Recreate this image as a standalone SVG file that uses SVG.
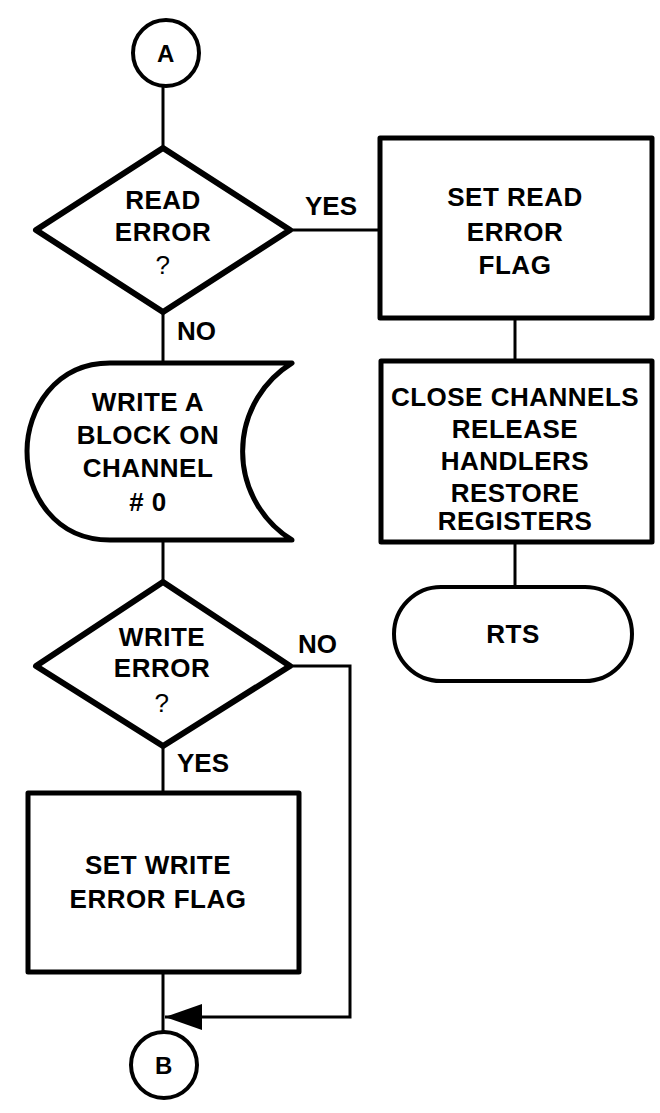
<svg xmlns="http://www.w3.org/2000/svg" width="660" height="1113" viewBox="0 0 660 1113">
<defs>
<style>
.t{font-family:"Liberation Sans",Arial,sans-serif;font-weight:bold;font-size:26px;fill:#000;text-anchor:middle;letter-spacing:0.5px}
.l{font-family:"Liberation Sans",Arial,sans-serif;font-weight:bold;font-size:26px;fill:#000}
.s{fill:#fff;stroke:#000;stroke-width:5;stroke-linejoin:round}
.c{fill:none;stroke:#000;stroke-width:3}
</style>
<marker id="ah" markerWidth="38" markerHeight="26" refX="37" refY="13" orient="auto" markerUnits="userSpaceOnUse">
<path d="M0,0 L37,13 L0,26 Z" fill="#000"/>
</marker>
</defs>
<rect width="660" height="1113" fill="#fff"/>
<g id="connectors">
<line class="c" x1="163" y1="86" x2="163" y2="148"/>
<line class="c" x1="290" y1="230" x2="380" y2="230"/>
<line class="c" x1="163" y1="312" x2="163" y2="363"/>
<line class="c" x1="515" y1="318" x2="515" y2="361"/>
<line class="c" x1="515" y1="542" x2="515" y2="587"/>
<line class="c" x1="163" y1="540" x2="163" y2="582"/>
<line class="c" x1="163" y1="746" x2="163" y2="793"/>
<line class="c" x1="163" y1="972" x2="163" y2="1032"/>
<polyline class="c" points="290,666 350,666 350,1017 165,1017" marker-end="url(#ah)"/>
<text class="l" x="305" y="215">YES</text>
<text class="l" x="177" y="340">NO</text>
<text class="l" x="298" y="653">NO</text>
<text class="l" x="177" y="772">YES</text>
</g>
<g id="nodeA">
<circle cx="166" cy="53" r="33" fill="#fff" stroke="#000" stroke-width="4"/>
<text class="t" x="166" y="62" style="font-size:24px">A</text>
</g>
<g id="readError">
<polygon class="s" points="163,148 290,230 163,312 36,230" style="stroke-width:6"/>
<text class="t" x="163" y="209">READ</text>
<text class="t" x="163" y="241">ERROR</text>
<text class="t" x="163" y="274" style="font-weight:normal">?</text>
</g>
<g id="setReadError">
<rect class="s" x="380" y="138" width="272" height="180"/>
<text class="t" x="515" y="206">SET READ</text>
<text class="t" x="515" y="241">ERROR</text>
<text class="t" x="515" y="274">FLAG</text>
</g>
<g id="closeChannels">
<rect class="s" x="381" y="361" width="271" height="181"/>
<text class="t" x="515" y="406">CLOSE CHANNELS</text>
<text class="t" x="515" y="438">RELEASE</text>
<text class="t" x="515" y="470">HANDLERS</text>
<text class="t" x="515" y="502">RESTORE</text>
<text class="t" x="515" y="530">REGISTERS</text>
</g>
<g id="rts">
<rect class="s" x="394" y="587" width="238" height="94" rx="47" ry="47" style="stroke-width:4"/>
<text class="t" x="513" y="643">RTS</text>
</g>
<g id="writeBlock">
<path class="s" d="M292,363 L110,363 C55,363 27,410 27,451 C27,495 55,540 110,540 L292,540 A104,104 0 0 1 292,363 Z"/>
<text class="t" x="148" y="411">WRITE A</text>
<text class="t" x="148" y="444">BLOCK ON</text>
<text class="t" x="148" y="477">CHANNEL</text>
<text class="t" x="148" y="511"># 0</text>
</g>
<g id="writeError">
<polygon class="s" points="163,582 290,666 163,746 36,666" style="stroke-width:6"/>
<text class="t" x="162" y="646">WRITE</text>
<text class="t" x="162" y="677">ERROR</text>
<text class="t" x="162" y="712" style="font-weight:normal">?</text>
</g>
<g id="setWriteError">
<rect class="s" x="28" y="793" width="271" height="179"/>
<text class="t" x="158" y="874">SET WRITE</text>
<text class="t" x="158" y="908">ERROR FLAG</text>
</g>
<g id="nodeB">
<circle cx="164" cy="1065" r="33" fill="#fff" stroke="#000" stroke-width="4"/>
<text class="t" x="164" y="1074" style="font-size:24px">B</text>
</g>
</svg>
